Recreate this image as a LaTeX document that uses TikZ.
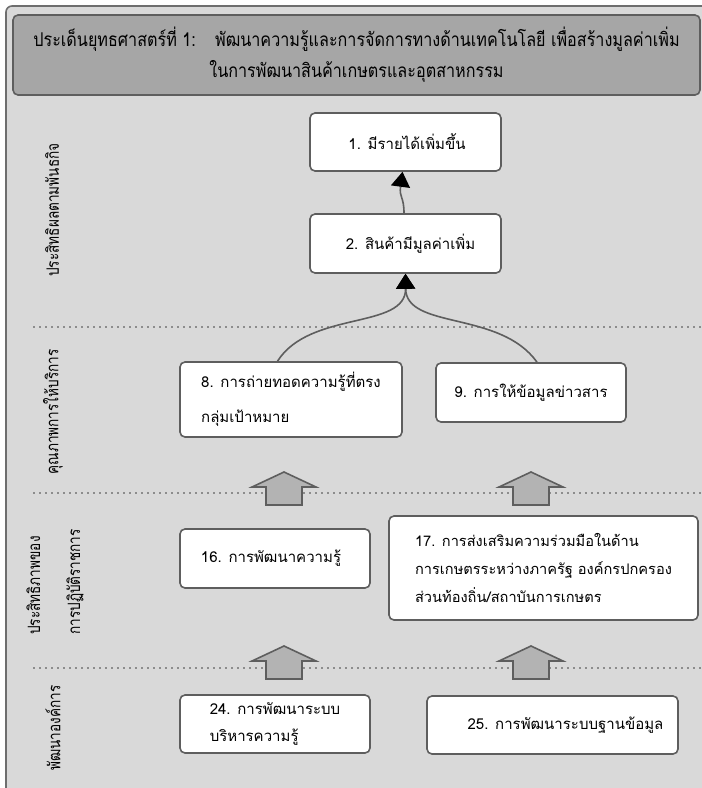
\documentclass[tikz,border=0pt]{standalone}
\usepackage{fontspec}
\setmainfont[Script=Thai]{Loma}
\newfontfamily\condfont[Script=Thai,FakeStretch=0.85]{Loma}
\newfontfamily\sidefont[Script=Thai,FakeStretch=0.8]{Loma}
\usetikzlibrary{arrows.meta}
\definecolor{bgfill}{HTML}{D9D9D9}
\definecolor{hdrfill}{HTML}{A6A6A6}
\definecolor{edgecol}{HTML}{5E5E5E}
\definecolor{framecol}{HTML}{6E6E6E}
\definecolor{arrfill}{HTML}{B3B3B3}
\definecolor{dotcol}{HTML}{8C8C8C}
\tikzset{
  box/.style={draw=edgecol, fill=white, line width=1.6pt, rounded corners=5pt,
    font=\fontsize{15}{28}\selectfont, align=left, inner sep=0pt},
  hdrbox/.style={draw=edgecol, fill=hdrfill, line width=1.6pt, rounded corners=5pt,
    font=\condfont\fontsize{19}{31}\selectfont, align=center, inner sep=0pt},
  sidelabel/.style={rotate=90, font=\sidefont\fontsize{17}{40}\selectfont, align=left, inner sep=0pt},
  dotline/.style={draw=dotcol, line width=1.5pt, dash pattern=on 1.5pt off 4.5pt},
  conn/.style={draw=edgecol, line width=1.6pt, -{Triangle[width=19pt,length=15pt,fill=black,color=black]}},
  blk/.style={draw=edgecol, fill=arrfill, line width=1.6pt, line join=miter},
  blockarrow/.pic={\path[blk] (-18,33) -- (-18,15) -- (-32,15) -- (0,0) -- (32,15) -- (18,15) -- (18,33) -- cycle;}
}
\begin{document}
\begin{tikzpicture}[x=1pt,y=-1pt]
\useasboundingbox (0,0) rectangle (702,788);
\clip (0,0) rectangle (702,788);
% outer frame
\draw[fill=bgfill, draw=framecol, line width=1.6pt, rounded corners=6pt] (6,6) rectangle (730,810);
% header
\node[hdrbox, minimum width=687pt, minimum height=80pt] (hdr) at (356.5,55)
  {ประเด็นยุทธศาสตร์ที่ 1:\hspace{12pt} พัฒนาความรู้และการจัดการทางด้านเทคโนโลยี เพื่อสร้างมูลค่าเพิ่ม\\
   ในการพัฒนาสินค้าเกษตรและอุตสาหกรรม};
% dotted separators
\coordinate (d1a) at (33,327); \coordinate (d1b) at (702,327);
\coordinate (d2a) at (33,493); \coordinate (d2b) at (702,493);
\coordinate (d3a) at (33,668); \coordinate (d3b) at (702,668);
\draw[dotline] (d1a) -- (d1b);
\draw[dotline] (d2a) -- (d2b);
\draw[dotline] (d3a) -- (d3b);
% side labels
\node[sidelabel] (l1) at (52,210) {ประสิทธิผลตามพันธกิจ};
\node[sidelabel] (l2) at (53,412) {คุณภาพการให้บริการ};
\node[sidelabel, anchor=west] (l3) at (55,635) {ประสิทธิภาพของ\\การปฏิบัติราชการ};
\node[sidelabel] (l4) at (53,728) {พัฒนาองค์การ};
% boxes
\node[box, minimum width=191pt, minimum height=58pt, align=center] (b1) at (405.5,142) {\hspace*{3pt}1. มีรายได้เพิ่มขึ้น};
\node[box, minimum width=191pt, minimum height=59pt, align=center] (b2) at (405.5,243.5) {\hspace*{10pt}2. สินค้ามีมูลค่าเพิ่ม};
\node[box, minimum width=222pt, minimum height=75pt, font=\fontsize{15}{35}\selectfont] (b8) at (291,399.5) {8. การถ่ายทอดความรู้ที่ตรง\\กลุ่มเป้าหมาย};
\node[box, minimum width=190pt, minimum height=59pt, align=center] (b9) at (531,392.5) {9. การให้ข้อมูลข่าวสาร};
\node[box, minimum width=190pt, minimum height=59pt] (b16) at (275,558.5) {\hspace*{-8pt}16. การพัฒนาความรู้};
\node[box, minimum width=309pt, minimum height=104pt, font=\fontsize{14.6}{28}\selectfont] (b17) at (543.5,568) {17. การส่งเสริมความร่วมมือในด้าน\\การเกษตรระหว่างภาครัฐ องค์กรปกครอง\\ส่วนท้องถิ่น/สถาบันการเกษตร};
\node[box, minimum width=190pt, minimum height=58pt, font=\fontsize{15}{27}\selectfont] (b24) at (275,724) {24. การพัฒนาระบบ\\บริหารความรู้};
\node[box, minimum width=251pt, minimum height=58pt, align=center] (b25) at (552.5,725) {\hspace*{26pt}25. การพัฒนาระบบฐานข้อมูล};
% curved connectors
\draw[conn] ([xshift=-1.5pt]b2.north) .. controls (404,196) and (399,198) .. ([xshift=-3pt]b1.south);
\draw[conn] ([xshift=-128pt]b2.south |- b8.north) .. controls (310,310) and (406,330) .. (b2.south);
\draw[conn] ([xshift=6pt]b9.north) .. controls (500,310) and (406,330) .. (b2.south);
% block arrows
\coordinate (a1) at (284,472);
\coordinate (a2) at (531,472);
\coordinate (a3) at (284,646);
\coordinate (a4) at (531,646);
\pic at (a1) {blockarrow};
\pic at (a2) {blockarrow};
\pic at (a3) {blockarrow};
\pic at (a4) {blockarrow};
\end{tikzpicture}
\end{document}
